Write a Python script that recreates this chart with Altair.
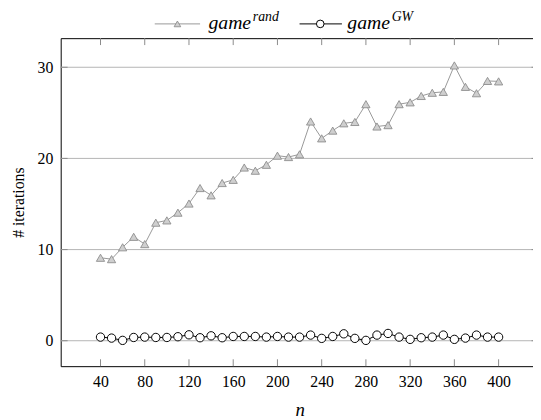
import altair as alt
import pandas as pd

# ---- data ----
n_values = [40, 50, 60, 70, 80, 90, 100, 110, 120, 130, 140, 150, 160, 170, 180, 190,
            200, 210, 220, 230, 240, 250, 260, 270, 280, 290, 300, 310, 320, 330, 340,
            350, 360, 370, 380, 390, 400]
game_rand = [9.1, 8.95, 10.25, 11.4, 10.6, 12.95, 13.2, 14.05, 15.05, 16.75, 15.95, 17.3,
             17.65, 19.0, 18.65, 19.3, 20.3, 20.15, 20.45, 24.05, 22.2, 23.05, 23.85, 24.0,
             25.95, 23.5, 23.65, 25.95, 26.15, 26.85, 27.2, 27.3, 30.2, 27.85, 27.15, 28.5,
             28.45]
game_gw = [0.40, 0.29, 0.04, 0.36, 0.40, 0.36, 0.36, 0.44, 0.65, 0.33, 0.54, 0.33, 0.47,
           0.47, 0.47, 0.40, 0.47, 0.40, 0.40, 0.62, 0.26, 0.47, 0.76, 0.26, 0.04, 0.62,
           0.80, 0.40, 0.15, 0.33, 0.40, 0.62, 0.15, 0.29, 0.62, 0.40, 0.40]
x_ticks = [40, 80, 120, 160, 200, 240, 280, 320, 360, 400]
y_ticks = [0, 10, 20, 30]

# ---- layout / style ----
W, H = 485, 333
FONT = "Liberation Serif"
GRID = "#b4b4b4"
TICK = "#8a8a8a"
GRAY_LINE = "#8c8c8c"
GRAY_FILL = "#cfcfcf"
TL = 7

xs = alt.Scale(domain=[4, 436], nice=False, zero=False)
ys = alt.Scale(domain=[-2.79, 33.19], nice=False, zero=False)

rand_df = pd.DataFrame({"n": n_values, "v": game_rand})
gw_df = pd.DataFrame({"n": n_values, "v": game_gw})
yt_df = pd.DataFrame({"v": y_ticks})
xt_df = pd.DataFrame({"n": x_ticks})
one = pd.DataFrame({"a": [0]})

x_axis = alt.Axis(values=x_ticks, ticks=False, domain=False, grid=False,
                  labelFont=FONT, labelFontSize=16, labelColor="#000", labelPadding=8,
                  title="n", titleFont=FONT, titleFontSize=19, titleFontStyle="italic",
                  titleFontWeight="normal", titleColor="#000", titlePadding=11)
y_axis = alt.Axis(values=y_ticks, ticks=False, domain=False, grid=False,
                  labelFont=FONT, labelFontSize=16, labelColor="#000", labelPadding=8,
                  title="# iterations", titleFont=FONT, titleFontSize=16,
                  titleFontWeight="normal", titleColor="#000", titlePadding=11)

X = alt.X("n:Q", scale=xs, axis=x_axis, title="n")
Y = alt.Y("v:Q", scale=ys, axis=y_axis, title="# iterations")

grid = alt.Chart(yt_df).mark_rule(color=GRID, strokeWidth=1).encode(
    y=Y, x=alt.value(0), x2=alt.value(W))
ytick_l = alt.Chart(yt_df).mark_rule(color=TICK, strokeWidth=1).encode(
    y=Y, x=alt.value(0), x2=alt.value(TL))
ytick_r = alt.Chart(yt_df).mark_rule(color=TICK, strokeWidth=1).encode(
    y=Y, x=alt.value(W - TL), x2=alt.value(W))
xtick_b = alt.Chart(xt_df).mark_rule(color=TICK, strokeWidth=1).encode(
    x=X, y=alt.value(H - TL), y2=alt.value(H))
xtick_t = alt.Chart(xt_df).mark_rule(color=TICK, strokeWidth=1).encode(
    x=X, y=alt.value(0), y2=alt.value(TL))

rand_line = alt.Chart(rand_df).mark_line(color=GRAY_LINE, strokeWidth=0.9).encode(x=X, y=Y)
rand_pts = alt.Chart(rand_df).mark_point(shape="triangle-up", size=70, fill=GRAY_FILL,
                                         stroke=GRAY_LINE, strokeWidth=0.9, opacity=1,
                                         fillOpacity=1).encode(x=X, y=Y)
gw_line = alt.Chart(gw_df).mark_line(color="#000", strokeWidth=1).encode(x=X, y=Y)
gw_pts = alt.Chart(gw_df).mark_point(shape="circle", size=72, fill="#fff", stroke="#000",
                                     strokeWidth=1, opacity=1, fillOpacity=1).encode(x=X, y=Y)

# ---- legend (drawn above the plot) ----
LY = -14.5
leg = [
    alt.Chart(one).mark_rule(color=GRAY_LINE, strokeWidth=0.9).encode(
        x=alt.value(95.5), x2=alt.value(141.5), y=alt.value(LY)),
    alt.Chart(one).mark_point(shape="triangle-up", size=45, fill=GRAY_FILL, stroke=GRAY_LINE,
                              strokeWidth=0.9, opacity=1, fillOpacity=1).encode(
        x=alt.value(118.5), y=alt.value(LY)),
    alt.Chart(one).mark_text(text="game", font=FONT, fontSize=20, fontStyle="italic",
                             align="left", baseline="alphabetic", color="#000").encode(
        x=alt.value(150), y=alt.value(-9.5)),
    alt.Chart(one).mark_text(text="rand", font=FONT, fontSize=14, fontStyle="italic",
                             align="left", baseline="alphabetic", color="#000").encode(
        x=alt.value(195), y=alt.value(-17)),
    alt.Chart(one).mark_rule(color="#000", strokeWidth=1).encode(
        x=alt.value(242.5), x2=alt.value(285.5), y=alt.value(LY)),
    alt.Chart(one).mark_point(shape="circle", size=60, fill="#fff", stroke="#000",
                              strokeWidth=1, opacity=1, fillOpacity=1).encode(
        x=alt.value(263.5), y=alt.value(LY)),
    alt.Chart(one).mark_text(text="game", font=FONT, fontSize=20, fontStyle="italic",
                             align="left", baseline="alphabetic", color="#000").encode(
        x=alt.value(291), y=alt.value(-9.5)),
    alt.Chart(one).mark_text(text="GW", font=FONT, fontSize=14, fontStyle="italic",
                             align="left", baseline="alphabetic", color="#000").encode(
        x=alt.value(336), y=alt.value(-17)),
]

chart = alt.layer(grid, ytick_l, ytick_r, xtick_b, xtick_t,
                  rand_line, rand_pts, gw_line, gw_pts, *leg).properties(
    width=W, height=H,
    background="#ffffff",
    autosize=alt.AutoSizeParams(type="none"),
    padding={"left": 53.5, "top": 27.5, "right": -5.5, "bottom": 51},
).configure_view(stroke="#000000", strokeWidth=1)

chart.save("out.html", embed_options={"renderer": "svg", "actions": False})
